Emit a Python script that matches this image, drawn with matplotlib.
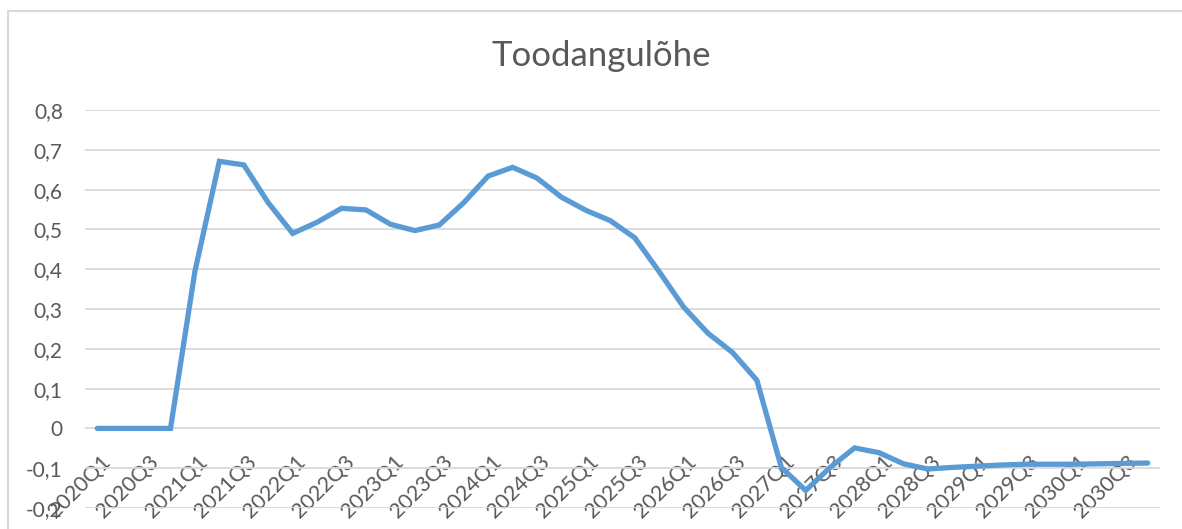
import matplotlib
matplotlib.use("Agg")
import matplotlib.pyplot as plt
from matplotlib.lines import Line2D
from matplotlib.transforms import ScaledTranslation

quarters = [f"{y}Q{q}" for y in range(2020, 2031) for q in range(1, 5)]
values = [
    0.000, 0.000, 0.000, 0.000,
    0.395, 0.671, 0.662, 0.567,
    0.490, 0.518, 0.553, 0.549,
    0.513, 0.497, 0.511, 0.567,
    0.634, 0.656, 0.629, 0.581,
    0.548, 0.522, 0.479, 0.394,
    0.305, 0.239, 0.191, 0.121,
    -0.098, -0.156, -0.098, -0.049,
    -0.061, -0.089, -0.102, -0.098,
    -0.095, -0.092, -0.090, -0.090,
    -0.090, -0.089, -0.088, -0.087,
]
y_ticks = [-0.2, -0.1, 0, 0.1, 0.2, 0.3, 0.4, 0.5, 0.6, 0.7, 0.8]
y_labels = ["-0,2", "-0,1", "0", "0,1", "0,2", "0,3", "0,4", "0,5", "0,6", "0,7", "0,8"]
title = "Toodangulõhe"

W, H = 1182, 529
DPI = 100
plt.rcParams['font.family'] = ['Lato', 'DejaVu Sans']
TXT = '#595959'
GRID = '#D9D9D9'

fig = plt.figure(figsize=(W / DPI, H / DPI), dpi=DPI)
ax = fig.add_axes([85 / W, 21 / H, (1160 - 85) / W, (508 - 110) / H])

x = list(range(len(quarters)))
ax.plot(x, values, color='#5B9BD5', lw=3.8, solid_joinstyle='miter', solid_capstyle='round', zorder=3)

ax.set_xlim(-0.5, len(quarters) - 0.5)
ax.set_ylim(-0.2, 0.8)
ax.set_yticks(y_ticks)
ax.set_yticklabels(y_labels)
ax.yaxis.grid(True, color=GRID, lw=1.3)
ax.set_axisbelow(True)

for s in ['left', 'right', 'top']:
    ax.spines[s].set_visible(False)
ax.spines['bottom'].set_position(('data', 0))
ax.spines['bottom'].set_visible(False)

ax.tick_params(axis='y', length=0, pad=16, labelsize=15, labelcolor=TXT)
ax.tick_params(axis='x', length=0, pad=22, labelsize=15.5, labelcolor=TXT)

tick_idx = list(range(0, len(quarters), 2))
ax.set_xticks(tick_idx)
ax.set_xticklabels([quarters[i] for i in tick_idx], rotation=45, ha='right',
                   va='center', rotation_mode='anchor')
off = ScaledTranslation(10 / DPI, 0, fig.dpi_scale_trans)
for lab in ax.get_xticklabels():
    lab.set_transform(lab.get_transform() + off)

fig.text(601 / W, 1 - 66.5 / H, title, ha='center', va='baseline', fontsize=25, color=TXT)

fig.add_artist(Line2D([8 / W, 8 / W], [0, 1 - 11 / H], transform=fig.transFigure, color=GRID, lw=1.5))
fig.add_artist(Line2D([8 / W, 1], [1 - 11 / H, 1 - 11 / H], transform=fig.transFigure, color=GRID, lw=1.5))

fig.savefig('out.png', dpi=DPI)
